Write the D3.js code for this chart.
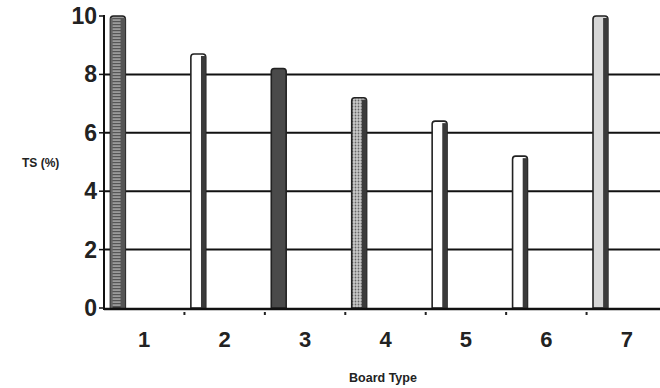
<!DOCTYPE html>
<html>
<head>
<meta charset="utf-8">
<script src="https://cdn.jsdelivr.net/npm/d3@7/dist/d3.min.js"></script>
<style>
  html, body { margin: 0; padding: 0; background: #fff; }
  svg { display: block; font-family: "Liberation Sans", Arial, sans-serif; }
</style>
</head>
<body>
<svg id="chart" width="660" height="388"></svg>
<script>
// Board types and their TS (%) values
const categories = ["1", "2", "3", "4", "5", "6", "7"];
const tsValues = [10.0, 8.7, 8.2, 7.2, 6.4, 5.2, 10.0];
const yTicks = [0, 2, 4, 6, 8, 10];
// fill style of each board's bar
const barStyles = ["hatch", "white", "solid", "dots", "white", "white", "light"];

const svg = d3.select("#chart");
const defs = svg.append("defs");

// horizontal line hatching
const hatch = defs.append("pattern").attr("id", "hatch")
  .attr("patternUnits", "userSpaceOnUse").attr("width", 4).attr("height", 3);
hatch.append("rect").attr("width", 4).attr("height", 3).attr("fill", "#9a9a9a");
hatch.append("rect").attr("width", 4).attr("height", 1.2).attr("fill", "#555");

// fine dotted texture
const dots = defs.append("pattern").attr("id", "dots")
  .attr("patternUnits", "userSpaceOnUse").attr("width", 3).attr("height", 3);
dots.append("rect").attr("width", 3).attr("height", 3).attr("fill", "#c8c8c8");
dots.append("circle").attr("cx", 1.5).attr("cy", 1.5).attr("r", 0.9).attr("fill", "#666");

const plotLeft = 104, plotRight = 667, plotTop = 16, plotBottom = 308;

const x = d3.scaleBand().domain(categories).range([plotLeft, plotRight]);
const y = d3.scaleLinear().domain([0, 10]).range([plotBottom, plotTop]);

// horizontal gridlines
svg.append("g").selectAll("line").data(yTicks.filter(t => t > 0 && t < 10)).join("line")
  .attr("x1", plotLeft).attr("x2", 660)
  .attr("y1", d => y(d)).attr("y2", d => y(d))
  .attr("stroke", "#111").attr("stroke-width", 2);

// bars: a narrow column near the left of each band, with a rounded top
const bw = x.bandwidth();
const barX = c => x(c) + bw * 0.08;
const barW = bw * 0.185;

function barPath(x0, w, y0, y1) {
  const r = 3;
  return `M${x0},${y1} L${x0},${y0 + r} Q${x0},${y0} ${x0 + r},${y0} L${x0 + w - r},${y0} Q${x0 + w},${y0} ${x0 + w},${y0 + r} L${x0 + w},${y1} Z`;
}

const bars = svg.append("g");
categories.forEach((c, i) => {
  const v = tsValues[i];
  const x0 = barX(c), y0 = y(v), y1 = y(0);
  const style = barStyles[i];
  const g = bars.append("g");
  let fill = "#fff";
  if (style === "hatch") fill = "url(#hatch)";
  if (style === "solid") fill = "#4a4a4a";
  if (style === "dots") fill = "url(#dots)";
  if (style === "light") fill = "#d6d6d6";
  g.append("path").attr("d", barPath(x0, barW, y0, y1))
    .attr("fill", fill).attr("stroke", "#222").attr("stroke-width", 1.6);
  // shaded right side of the column
  if (style !== "solid") {
    g.append("rect")
      .attr("x", x0 + barW * 0.68).attr("y", y0 + 2)
      .attr("width", barW * 0.32).attr("height", y1 - y0 - 2)
      .attr("fill", style === "hatch" ? "#555" : "#3a3a3a");
  }
  if (style === "hatch") {
    g.append("rect").attr("x", x0).attr("y", y0 + 2)
      .attr("width", barW * 0.15).attr("height", y1 - y0 - 2).attr("fill", "#666");
  }
});

// y axis
svg.append("line").attr("x1", plotLeft).attr("x2", plotLeft).attr("y1", plotTop - 1).attr("y2", plotBottom + 2)
  .attr("stroke", "#111").attr("stroke-width", 2);
const yAxis = svg.append("g");
yAxis.selectAll("line").data(yTicks).join("line")
  .attr("x1", plotLeft - 5).attr("x2", plotLeft)
  .attr("y1", d => y(d)).attr("y2", d => y(d))
  .attr("stroke", "#111").attr("stroke-width", 1.5);
yAxis.selectAll("text").data(yTicks).join("text")
  .attr("x", plotLeft - 7).attr("y", d => y(d) + 8)
  .attr("text-anchor", "end").attr("font-size", 23).attr("font-weight", "bold")
  .attr("fill", "#222").text(d => d);

// x axis
svg.append("line").attr("x1", plotLeft).attr("x2", 660).attr("y1", plotBottom + 1).attr("y2", plotBottom + 1)
  .attr("stroke", "#111").attr("stroke-width", 2.5);
const xAxis = svg.append("g");
xAxis.selectAll("rect").data(categories.slice(1)).join("rect")
  .attr("x", d => x(d) - 1).attr("y", plotBottom + 4).attr("width", 2).attr("height", 3)
  .attr("fill", "#222");
xAxis.selectAll("text").data(categories).join("text")
  .attr("x", d => x(d) + bw / 2).attr("y", 347)
  .attr("text-anchor", "middle").attr("font-size", 22).attr("font-weight", "bold")
  .attr("fill", "#222").text(d => d);

// axis titles
svg.append("text").attr("x", 22).attr("y", 167)
  .attr("font-size", 12).attr("font-weight", "bold").attr("fill", "#222").text("TS (%)");
svg.append("text").attr("x", 383).attr("y", 382).attr("text-anchor", "middle")
  .attr("font-size", 12.5).attr("font-weight", "bold").attr("fill", "#222").text("Board Type");
</script>
</body>
</html>
